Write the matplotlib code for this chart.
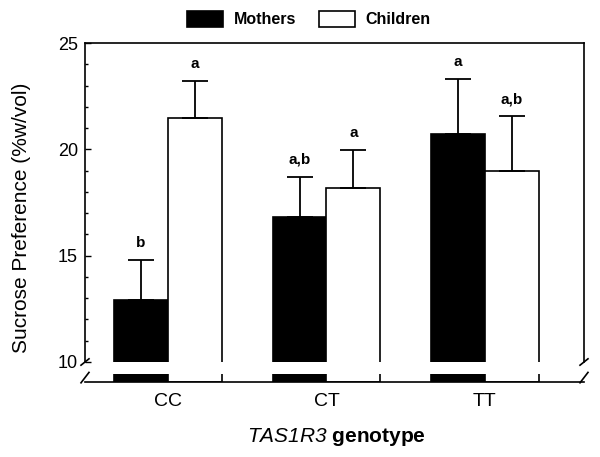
import matplotlib.pyplot as plt
import numpy as np

plt.rcParams['font.family'] = ['Liberation Sans', 'DejaVu Sans']
plt.rcParams['mathtext.fontset'] = 'custom'
plt.rcParams['mathtext.it'] = 'Liberation Sans:italic'
plt.rcParams['mathtext.rm'] = 'Liberation Sans:italic'

# data
genotypes = ['CC', 'CT', 'TT']
mothers = [12.9, 16.8, 20.7]
mothers_sem = [1.9, 1.9, 2.6]
children = [21.45, 18.2, 19.0]
children_sem = [1.75, 1.77, 2.55]
mothers_sig = ['b', 'a,b', 'a']
children_sig = ['a', 'a', 'a,b']

W, H = 600, 457
def box(x0, y0, x1, y1):
    return [x0 / W, 1 - y1 / H, (x1 - x0) / W, (y1 - y0) / H]

fig = plt.figure(figsize=(6, 4.57), dpi=100)
ax = fig.add_axes(box(85, 43, 584, 362))
axb = fig.add_axes(box(85, 374, 584, 382), sharex=ax)

x = np.arange(len(genotypes))
w = 0.34
for a in (ax, axb):
    a.bar(x - w / 2, mothers, w, color='black', edgecolor='black', linewidth=1.2,
          label='Mothers')
    a.bar(x + w / 2, children, w, color='white', edgecolor='black', linewidth=1.2,
          label='Children')

ekw = dict(fmt='none', ecolor='black', elinewidth=1.3, capsize=9.7, capthick=1.3)
ax.errorbar(x - w / 2, mothers, yerr=[np.zeros(3), mothers_sem], **ekw)
ax.errorbar(x + w / 2, children, yerr=[np.zeros(3), children_sem], **ekw)

for xs, vals, sems, labs in [(x - w / 2, mothers, mothers_sem, mothers_sig),
                             (x + w / 2, children, children_sem, children_sig)]:
    for xi, v, s, l in zip(xs, vals, sems, labs):
        ax.annotate(l, (xi, v + s), xytext=(0, 9.5), textcoords='offset points',
                    ha='center', va='baseline', fontsize=11, fontweight='bold')

ax.set_xlim(-0.524, 2.625)
ax.set_ylim(10, 25)
ax.set_yticks([10, 15, 20, 25])
ax.set_yticks(np.arange(10, 26, 1), minor=True)
ax.tick_params(axis='y', which='major', direction='in', length=4.3, width=1, labelsize=13, pad=5)
ax.tick_params(axis='y', which='minor', direction='in', length=2.5, width=1)
ax.tick_params(axis='x', bottom=False, labelbottom=False)
ax.spines['bottom'].set_visible(False)
for s in ax.spines.values():
    s.set_linewidth(1.2)

axb.set_ylim(0, 1)
axb.set_yticks([])
axb.spines['top'].set_visible(False)
axb.spines['left'].set_visible(False)
axb.spines['right'].set_visible(False)
axb.spines['bottom'].set_linewidth(1.2)
axb.set_xticks(x)
axb.set_xticklabels(genotypes, fontsize=14)
axb.tick_params(axis='x', length=0, pad=8)

# axis break marks
kw = dict(color='black', linewidth=1.2, clip_on=False)
for xa in (0, 1):
    ax.plot([xa - 0.008, xa + 0.008], [-0.01, 0.01], transform=ax.transAxes, **kw)
    axb.plot([xa - 0.008, xa + 0.008], [-0.1, 1.2], transform=axb.transAxes, **kw)

fig.text(22 / W, 1 - 218 / H, 'Sucrose Preference (%w/vol)', rotation=90,
         ha='center', va='center', fontsize=15)
fig.text(336 / W, 1 - 437 / H, r'$\mathrm{TAS1R3}$ genotype', ha='center',
         va='center', fontsize=15, fontweight='bold')

fig.legend(*ax.get_legend_handles_labels(), loc='center', ncol=2, frameon=False,
           bbox_to_anchor=(309 / W, 1 - 19 / H), prop={'weight': 'bold', 'size': 11.5},
           handlelength=2.25, handleheight=1.25, handletextpad=0.69,
           columnspacing=1.4, borderpad=0)

fig.savefig('out.png', dpi=100)
